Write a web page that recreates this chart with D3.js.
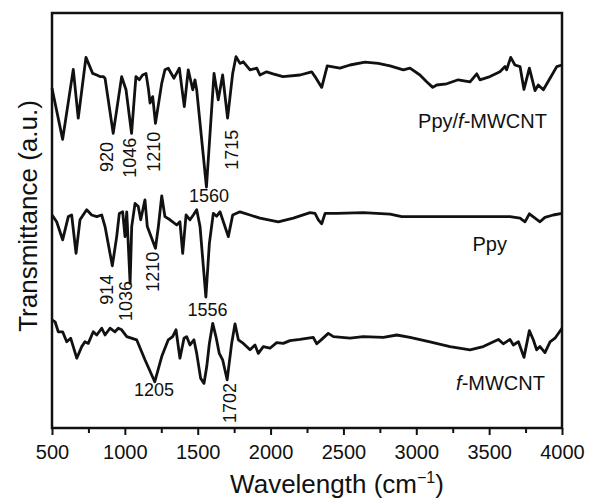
<!DOCTYPE html>
<html>
    <head>
        <meta charset="utf-8">
        <title>FTIR</title>
        <style>
            body { margin: 0; background: #fff; }
            svg text { font-family: "Liberation Sans", Arial, sans-serif; fill: #111; }
            .tick text { font-size: 20px; }
            .tick line { stroke: #111; stroke-width: 2; }
            .spectrum { fill: none; stroke: #111; stroke-width: 2.8; stroke-linejoin: round; }
            .peak { font-size: 18px; }
            .name { font-size: 20px; }
            .title { font-size: 26px; }
        </style>
    </head>
    <body>
        <svg width="592" height="500"></svg>

        <script src="https://d3js.org/d3.v7.min.js"></script>
        <script>
            // Ppy/f-MWCNT (top)
            var compWn = [500,573,646,680,733,779,807,829,852,864,920,978,1008,1046,1076,1099,1122,1145,1161,1173,1191,1210,1253,1275,1298,1337,1374,1390,1408,1435,1466,1481,1493,1560,1612,1641,1671,1705,1740,1763,1790,1813,1859,1905,1927,1973,2017,2085,2202,2282,2305,2351,2389,2476,2545,2648,2739,2820,2911,2957,3025,3071,3113,3140,3209,3288,3369,3415,3437,3506,3574,3609,3620,3648,3677,3712,3739,3776,3815,3837,3872,3918,3964,4000];
            var compT = [85.2,72.4,89.9,77.7,92.9,88.9,88.5,88.1,88.1,87.7,73.9,88.1,84.8,73.9,88.1,87.3,88.5,88.9,85.2,81.5,83.1,76.4,86.4,89.8,90.2,87.7,90.2,85.6,80.6,89.8,84.8,87.3,84.8,60.5,88.9,82.3,88.5,77.7,88.9,93.1,91.4,91.8,89.8,90.2,88.5,89.3,88.8,88.1,88.5,89.3,88.1,85.4,90.8,90.2,91,91.7,91.4,90.8,89.8,90.2,88.5,86.8,85.4,86,86.3,87.3,86.8,88.8,87.3,88.1,89.3,90.6,89.8,92.9,91,90.6,84.9,90.2,84.6,86,84.8,87.7,90.6,91];

            // Ppy (middle)
            var ppyWn = [500,532,573,612,635,665,692,738,772,807,841,864,914,944,962,985,1001,1013,1036,1047,1070,1092,1109,1138,1154,1210,1230,1253,1275,1310,1356,1378,1397,1420,1447,1470,1493,1516,1556,1580,1607,1630,1653,1676,1710,1740,1790,1859,1927,2053,2156,2271,2305,2328,2351,2374,2454,2636,2820,2900,3643,3712,3746,3776,3815,3849,3883,3940,4000];
            var ppyT = [53.5,51.8,47.3,53.1,53.5,43.9,52.3,54.8,53.5,53.1,53.5,50.6,40.8,48.1,53.9,54.3,48.1,54.3,36.4,50.6,56.4,55.6,52.3,57.3,50.6,45.2,50.6,58.3,53.1,52.3,51,51.8,43.9,53.5,52.3,53.5,54.8,50.6,33,46.4,53.9,53.2,54.3,51.8,48.1,53.5,54.3,53.5,52.7,51.8,52.7,54.1,53.9,52.3,51.3,53.9,53.9,54.1,53.7,53.1,53.1,52.7,51.8,53.8,52.7,51.8,52.9,53.5,53.9];

            // f-MWCNT (bottom)
            var cntWn = [500,521,543,573,601,628,670,704,726,749,783,807,841,864,898,932,955,978,1013,1081,1138,1205,1253,1298,1328,1351,1378,1406,1424,1447,1474,1493,1520,1543,1562,1580,1603,1625,1648,1671,1702,1733,1756,1779,1813,1859,1893,1916,1950,1996,2042,2087,2133,2202,2293,2317,2351,2396,2431,2545,2636,2774,2866,2957,3094,3231,3369,3460,3563,3597,3643,3666,3701,3739,3776,3803,3826,3849,3883,3918,3952,4000];
            var cntT = [27.3,26.8,24.3,24.3,21.8,22.7,17.7,20.6,21.8,21.4,24.3,23.5,25.2,23.5,25.2,24.3,25.2,24.8,23.1,22.3,17.3,11.8,18.1,22.3,23.1,24.8,17.7,22.7,23.1,21,22.3,18.9,12.7,11.4,15.6,21.4,26.4,23.1,18.9,17.3,12.3,21.4,26.3,22.3,21.4,19.8,21,18.9,20.6,20.2,21.6,21.4,22.1,22.4,22.9,21.3,22.4,23.9,23.1,22.7,23.1,22.9,23.5,22.9,21.8,20.6,19.8,20.6,22.4,21.3,22.4,21,21.8,17.9,24.6,22.3,19.8,20.6,19.1,21.8,22.7,25.2];

            var xTicks = [500,1000,1500,2000,2500,3000,3500,4000];
            var xMinor = [750,1250,1750,2250,2750,3250,3750];

            // peak annotations: label, wavenumber, transmittance, vertical?
            var peakText = ["920","1046","1210","1715","1560","914","1036","1210","1556","1205","1702"];
            var peakWn   = [875,1035,1200,1733,1577,875,1008,1191,1567,1200,1722];
            var peakT    = [68,67.8,69.3,69.8,58.3,34.8,32,39.3,29.8,9.8,6.5];
            var peakVert = [true,true,true,true,false,true,true,true,false,false,true];

            var names = ["Ppy/", "Ppy", ""];
            var nameWn = [3897,3622,3883];
            var nameT  = [75.3,44.6,9.75];

            var svg = d3.select("svg"),
                plotL = 52, plotR = 562, plotT = 13, plotB = 428;

            var x = d3.scaleLinear().domain([500, 4000]).range([plotL, plotR]);
            var y = d3.scaleLinear().domain([0, 104]).range([429, 13]);

            var line = d3.line()
                .x(function(d) { return x(d[0]); })
                .y(function(d) { return y(d[1]); });

            var series = [d3.zip(compWn, compT), d3.zip(ppyWn, ppyT), d3.zip(cntWn, cntT)];

            svg.selectAll(".spectrum")
                .data(series)
                .enter()
                .append("path")
                .attr("class", "spectrum")
                .attr("d", line);

            // axis ticks
            var ax = svg.append("g")
                .attr("transform", "translate(0," + plotB + ")")
                .call(d3.axisBottom(x).tickValues(xTicks).tickSize(7).tickPadding(10).tickFormat(d3.format("d")));
            ax.select(".domain").remove();
            ax.selectAll("text").attr("font-family", null);

            var axm = svg.append("g")
                .attr("transform", "translate(0," + plotB + ")")
                .call(d3.axisBottom(x).tickValues(xMinor).tickSize(5).tickFormat(""));
            axm.select(".domain").remove();

            svg.append("rect")
                .attr("x", plotL)
                .attr("y", plotT)
                .attr("width", plotR - plotL)
                .attr("height", plotB - plotT)
                .attr("fill", "none")
                .attr("stroke", "#111")
                .attr("stroke-width", 2.5);

            // peak labels
            peakText.forEach(function(t, i) {
                svg.append("text")
                    .attr("class", "peak")
                    .attr("transform", "translate(" + x(peakWn[i]) + "," + y(peakT[i]) + ")" + (peakVert[i] ? " rotate(-90)" : ""))
                    .attr("text-anchor", "middle")
                    .attr("dominant-baseline", "central")
                    .text(t);
            });

            // sample names
            names.forEach(function(n, i) {
                var t = svg.append("text")
                    .attr("class", "name")
                    .attr("x", x(nameWn[i]))
                    .attr("y", y(nameT[i]))
                    .attr("text-anchor", "end");
                if (i === 1) {
                    t.text(n);
                } else {
                    t.append("tspan").text(n);
                    t.append("tspan").attr("font-style", "italic").text("f");
                    t.append("tspan").text("-MWCNT");
                }
            });

            var xl = svg.append("text")
                .attr("class", "title")
                .attr("x", 337)
                .attr("y", 493)
                .attr("text-anchor", "middle");
            xl.append("tspan").text("Wavelength (cm");
            xl.append("tspan").attr("font-size", "16px").attr("dy", -10).text("\u22121");
            xl.append("tspan").attr("dy", 10).text(")");

            svg.append("text")
                .attr("class", "title")
                .attr("transform", "translate(37,216) rotate(-90)")
                .attr("text-anchor", "middle")
                .text("Transmittance (a.u.)");
        </script>
    </body>
</html>
